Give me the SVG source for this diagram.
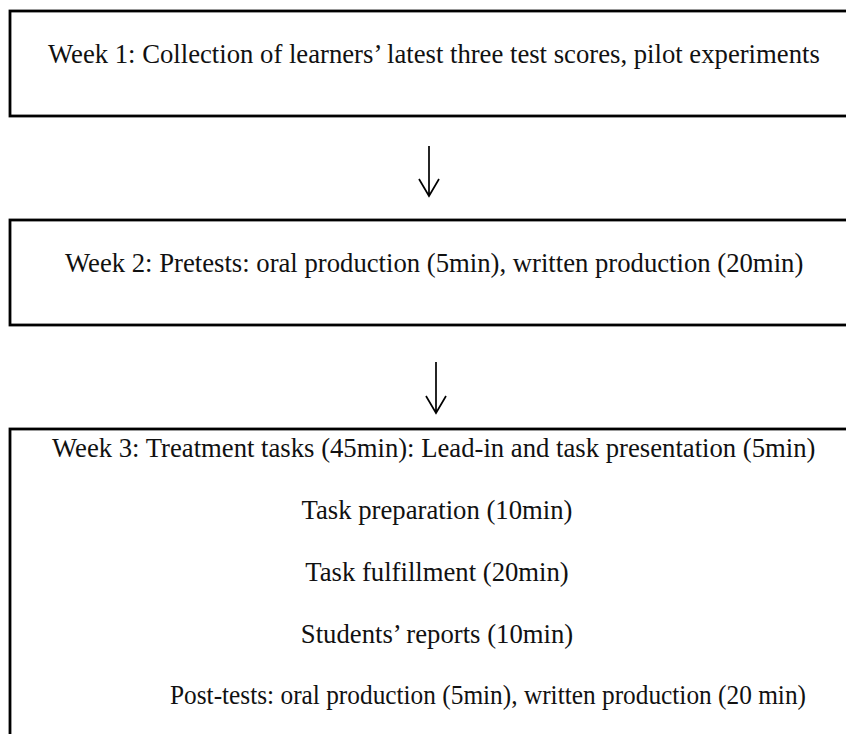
<svg xmlns="http://www.w3.org/2000/svg" width="846" height="734" viewBox="0 0 846 734">
<style>
.box{fill:#fff;stroke:#000;stroke-width:2.8}
.t{font-family:"Liberation Serif","Times New Roman",serif;font-size:26.7px;fill:#111}
.arr{fill:none;stroke:#000;stroke-width:1.7}
</style>
<rect width="846" height="734" fill="#fff"/>
<g id="week1">
<rect class="box" x="10" y="11" width="850" height="105"/>
<text class="t" x="48" y="63">Week 1: Collection of learners’ latest three test scores, pilot experiments</text>
</g>
<g id="week2">
<rect class="box" x="10" y="220" width="850" height="105"/>
<text class="t" x="65" y="272">Week 2: Pretests: oral production (5min), written production (20min)</text>
</g>
<g id="week3">
<rect class="box" x="10" y="429" width="850" height="330"/>
<text class="t" x="52" y="457">Week 3: Treatment tasks (45min): Lead-in and task presentation (5min)</text>
<text class="t" x="437" y="519" text-anchor="middle">Task preparation (10min)</text>
<text class="t" x="437" y="581" text-anchor="middle">Task fulfillment (20min)</text>
<text class="t" x="437" y="643" text-anchor="middle">Students’ reports (10min)</text>
<text class="t" x="170" y="704" textLength="636" lengthAdjust="spacingAndGlyphs">Post-tests: oral production (5min), written production (20 min)</text>
</g>
<g id="connectors">
<path class="arr" d="M429 146V196M419 179L429 196L439 179"/>
<path class="arr" d="M436 362V413M426 396L436 413L446 396"/>
</g>
</svg>
